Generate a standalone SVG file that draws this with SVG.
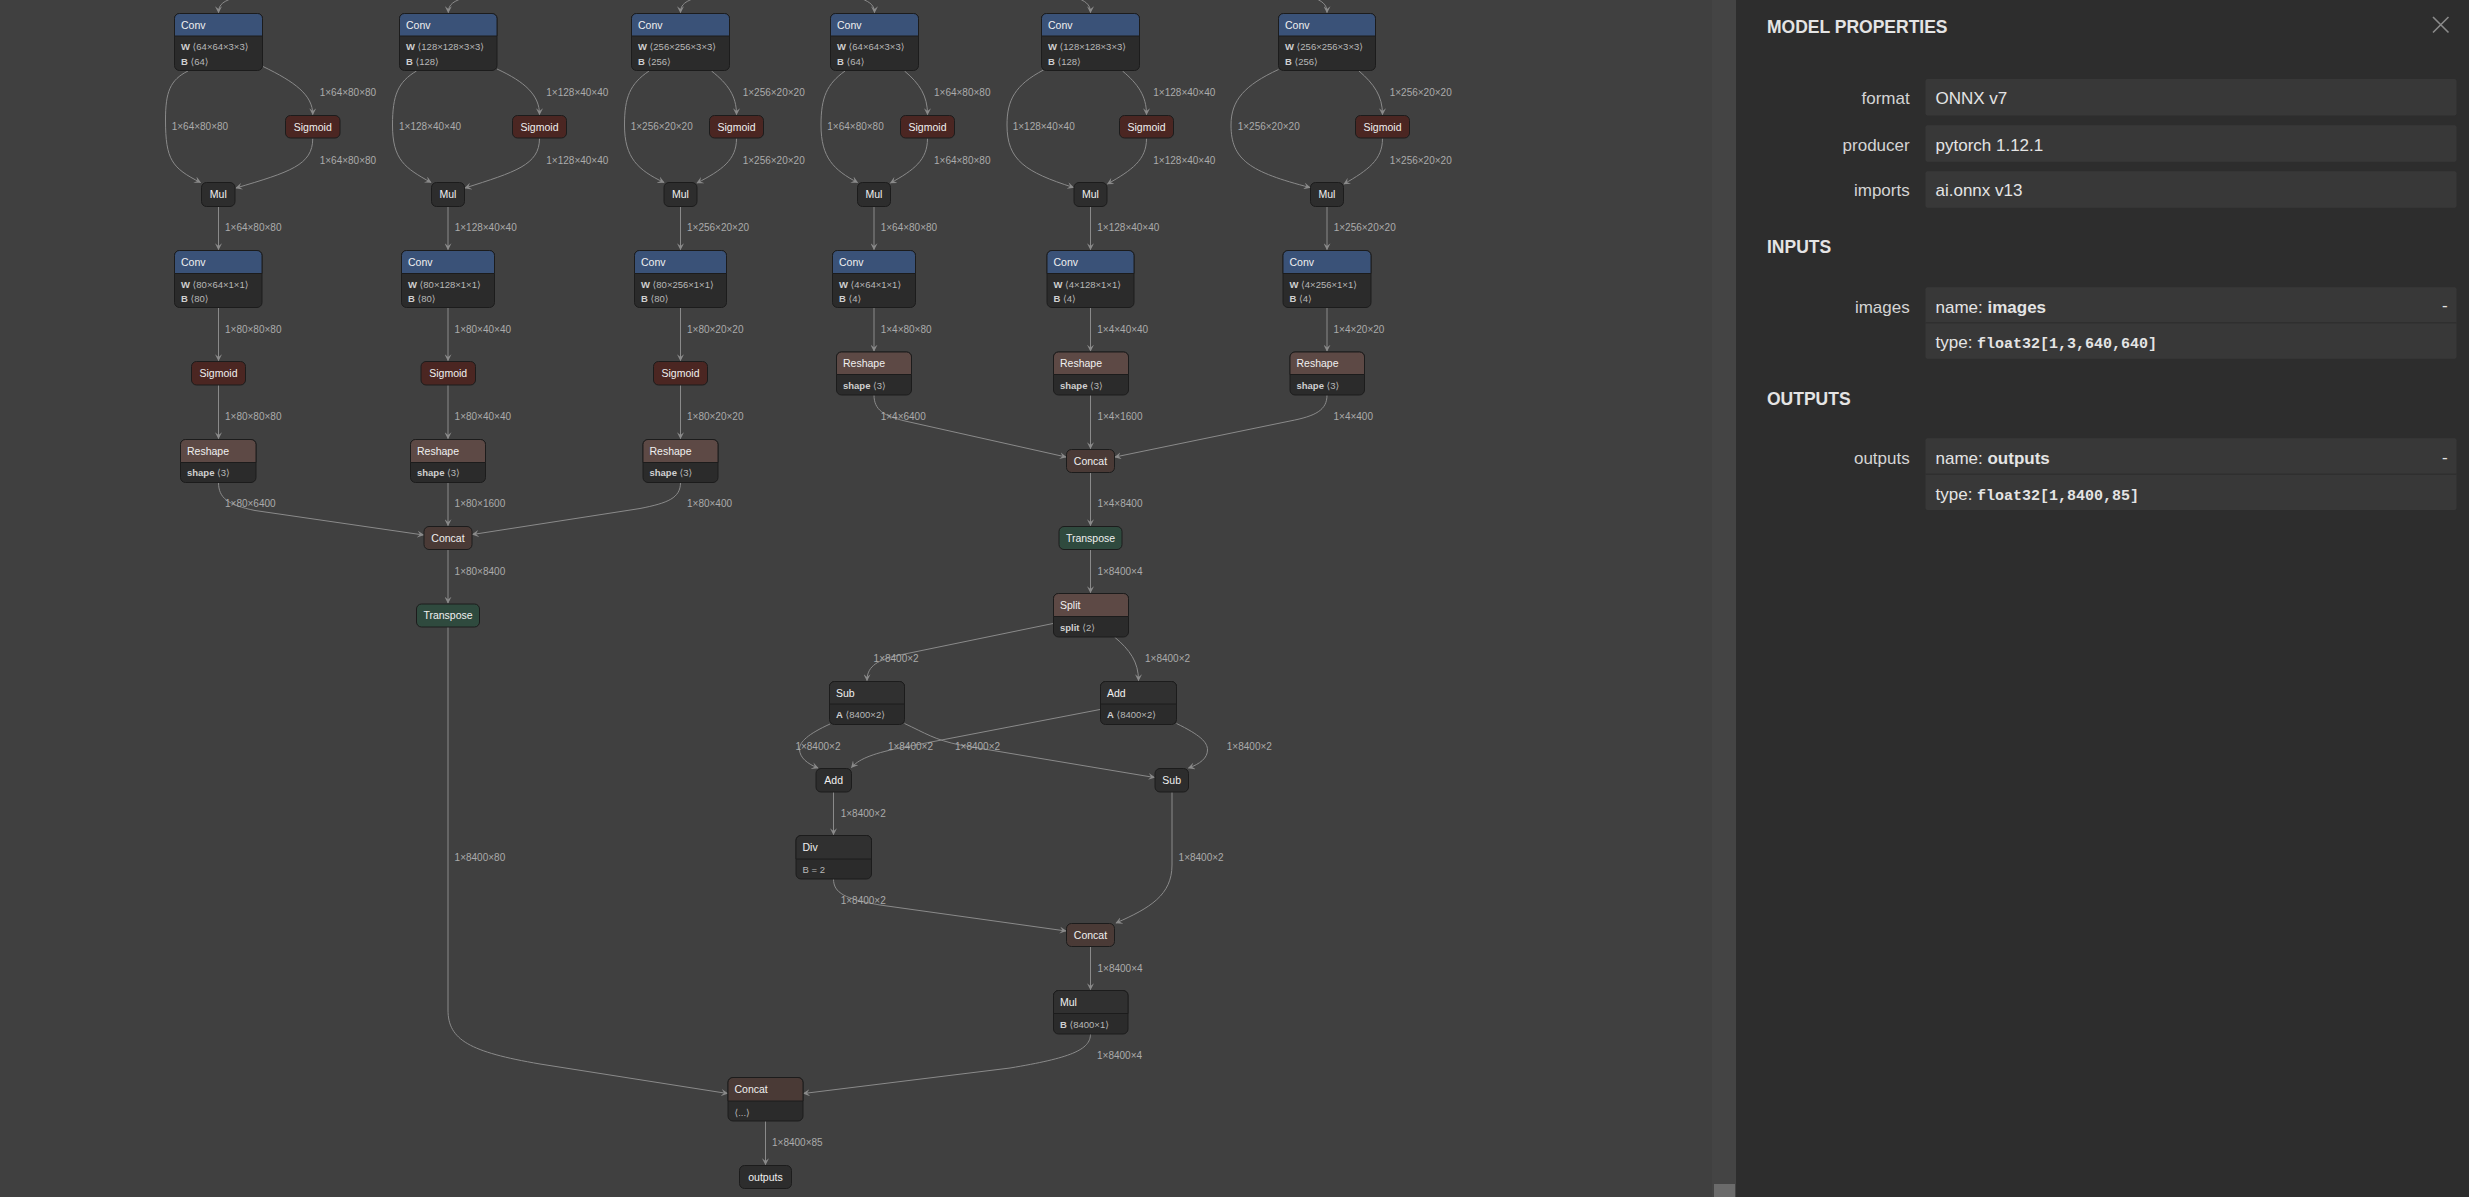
<svg xmlns="http://www.w3.org/2000/svg" width="2469" height="1197" viewBox="0 0 2469 1197">
<defs>
<marker id="arr" viewBox="0 0 10 10" refX="9" refY="5" markerWidth="7" markerHeight="7" orient="auto"><path d="M0,0 L10,5 L0,10 L4,5 Z" fill="#8a8a8a"/></marker>
<style>
.e{fill:none;stroke:#8a8a8a;stroke-width:1;marker-end:url(#arr)}
.el{font-family:"Liberation Sans",Arial,sans-serif;font-size:10px;fill:#ababab}
.bd{fill:#2b2b2b;stroke:#1c1c1c;stroke-width:1}
.sm{fill:#2d2d2d;stroke:#1c1c1c;stroke-width:1}
.hc{fill:#3a5278;stroke:#1c1c1c;stroke-width:1}
.hs{fill:#4b2622;stroke:#1c1c1c;stroke-width:1}
.hr{fill:#5d4945;stroke:#1c1c1c;stroke-width:1}
.hk{fill:#4a3a36;stroke:#1c1c1c;stroke-width:1}
.ht{fill:#2f4a3e;stroke:#1c1c1c;stroke-width:1}
.hd{fill:#303030;stroke:#1c1c1c;stroke-width:1}
.t{font-family:"Liberation Sans",Arial,sans-serif;font-size:10.5px;fill:#f0f0f0}
.tc{font-family:"Liberation Sans",Arial,sans-serif;font-size:10.5px;fill:#f0f0f0;text-anchor:middle}
.a{font-family:"Liberation Sans","DejaVu Sans",Arial,sans-serif;font-size:9.5px;fill:#b8b8b8}
.b{font-weight:bold;fill:#d0d0d0}
.pl{font-family:"Liberation Sans",Arial,sans-serif;font-size:17px;fill:#d4d4d4;text-anchor:end}
.pv{font-family:"Liberation Sans",Arial,sans-serif;font-size:17px;fill:#e4e4e4}
.ph{font-family:"Liberation Sans",Arial,sans-serif;font-size:17.5px;font-weight:bold;fill:#e4e4e4}
.pm{font-family:"Liberation Mono",monospace;font-size:15px;font-weight:bold;fill:#e4e4e4}
.pb{fill:#383838}
</style>
</defs>
<rect x="0" y="0" width="2469" height="1197" fill="#404040"/>
<rect x="1712" y="0" width="24" height="1197" fill="#444444"/>
<rect x="1714" y="1184" width="21" height="13" fill="#6b6b6b"/>

<g id="edges">
<!-- incoming from above -->
<path class="e" d="M236,-3 C224,1 218.5,4 218.5,12.5"/>
<path class="e" d="M466,-3 C454,1 448.3,4 448.3,12.5"/>
<path class="e" d="M698,-3 C686,1 680.5,4 680.5,12.5"/>
<path class="e" d="M857,-3 C868,1 874.5,4 874.5,12.5"/>
<path class="e" d="M1075,-3 C1085,1 1090.5,4 1090.5,12.5"/>
<path class="e" d="M1312,-3 C1322,1 1327,4 1327,12.5"/>
<!-- col1 -->
<path class="e" d="M188,71 C170,80 165.5,92 165.5,120 C165.5,160 172,168 200.5,182.5"/>
<path class="e" d="M263,66.5 C295,82 312.75,95 312.75,114.5"/>
<path class="e" d="M312.75,138.5 C312.75,165 290,172 236,188"/>
<path class="e" d="M218.5,206.5 V249.5"/>
<!-- col2 -->
<path class="e" d="M416.5,71 C398,82 392.5,95 392.5,125 C392.5,160 405,168 431,182.5"/>
<path class="e" d="M497,69 C525,82 539.5,95 539.5,114.5"/>
<path class="e" d="M539.5,138.5 C539.5,165 515,172 465,188"/>
<path class="e" d="M448,206.5 V249.5"/>
<!-- col3 -->
<path class="e" d="M649,71 C630,84 624.5,97 624.5,125 C624.5,158 638,170 664,182.5"/>
<path class="e" d="M711.5,71 C728,84 736.5,96 736.5,114.5"/>
<path class="e" d="M736.5,138.5 C736.5,160 722,170 697,183"/>
<path class="e" d="M680.5,206.5 V249.5"/>
<!-- col4 -->
<path class="e" d="M845,71 C827,84 821,97 821,125 C821,158 834,170 857.5,182.5"/>
<path class="e" d="M904.5,71 C920,84 927.5,96 927.5,114.5"/>
<path class="e" d="M927.5,138.5 C927.5,160 914,170 890.5,183"/>
<path class="e" d="M874,206.5 V249.5"/>
<!-- col5 -->
<path class="e" d="M1043.5,70 C1015,85 1007,100 1007,125 C1007,160 1025,172 1073.5,187.5"/>
<path class="e" d="M1122.5,71 C1138,84 1146.5,96 1146.5,114.5"/>
<path class="e" d="M1146.5,138.5 C1146.5,160 1132,170 1107.5,184"/>
<path class="e" d="M1090.5,206.5 V249.5"/>
<!-- col6 -->
<path class="e" d="M1278.5,69.5 C1245,85 1231,100 1231,125 C1231,160 1250,172 1310,187.5"/>
<path class="e" d="M1359,71 C1374,84 1382.5,96 1382.5,114.5"/>
<path class="e" d="M1382.5,138.5 C1382.5,160 1368,170 1344,184"/>
<path class="e" d="M1327,206.5 V249.5"/>
<!-- left graph lower -->
<path class="e" d="M218.5,307.5 V360.5"/>
<path class="e" d="M448,307.5 V360.5"/>
<path class="e" d="M680.5,307.5 V360.5"/>
<path class="e" d="M218.5,385 V438.5"/>
<path class="e" d="M448,385 V438.5"/>
<path class="e" d="M680.5,385 V438.5"/>
<path class="e" d="M218.5,482.5 C218.5,498 228,505 255,510.5 L423.5,535"/>
<path class="e" d="M448,482.5 V525.5"/>
<path class="e" d="M680.5,482.5 C680.5,498 668,503 640,508.5 L472.5,534.5"/>
<path class="e" d="M448,549.5 V603"/>
<path class="e" d="M448,627 V1010 C448,1040 470,1052 540,1064 L727.5,1093.5"/>
<!-- right graph lower -->
<path class="e" d="M874,307.5 V351"/>
<path class="e" d="M1090.5,307.5 V351"/>
<path class="e" d="M1327,307.5 V351"/>
<path class="e" d="M874,395 C874,410 884,416 905,421 L1066,457"/>
<path class="e" d="M1090.5,395 V448.5"/>
<path class="e" d="M1327,395 C1327,410 1316,416 1290,421 L1115,457"/>
<path class="e" d="M1090.5,472.5 V525.5"/>
<path class="e" d="M1090.5,549.5 V592.5"/>
<path class="e" d="M1053,623.5 L895,656 C875,661 867,668 867,680.5"/>
<path class="e" d="M1114.5,637 C1130,650 1138.5,662 1138.5,680.5"/>
<path class="e" d="M830,724 C808,734 799.5,742 799.5,749 C799.5,758 808,764 818,768"/>
<path class="e" d="M1100,709.5 L900,748 C870,754 858,760 851.5,767.5"/>
<path class="e" d="M904.5,723.5 C925,733 935,740 960,745 L1154.5,777.5"/>
<path class="e" d="M1176.5,723.5 C1200,735 1207.5,742 1207.5,750 C1207.5,758 1200,764 1188.5,768"/>
<path class="e" d="M833.5,792 V834.5"/>
<path class="e" d="M833.5,879 C833.5,893 845,899 880,905 L1066,931"/>
<path class="e" d="M1172,792 V865 C1172,895 1150,908 1116,923"/>
<path class="e" d="M1090.5,946.5 V989.5"/>
<path class="e" d="M1090.5,1034 C1090.5,1050 1070,1058 1010,1068 L803.5,1093.5"/>
<path class="e" d="M765.5,1121 V1164.5"/>
</g>

<g id="edge-labels">
<text class="el" x="171.7" y="130.2">1×64×80×80</text>
<text class="el" x="319.7" y="96.2">1×64×80×80</text>
<text class="el" x="319.7" y="164.2">1×64×80×80</text>
<text class="el" x="225" y="231.2">1×64×80×80</text>
<text class="el" x="399" y="130.2">1×128×40×40</text>
<text class="el" x="546.3" y="96.2">1×128×40×40</text>
<text class="el" x="546.3" y="164.2">1×128×40×40</text>
<text class="el" x="454.7" y="231.2">1×128×40×40</text>
<text class="el" x="630.7" y="130.2">1×256×20×20</text>
<text class="el" x="742.7" y="96.2">1×256×20×20</text>
<text class="el" x="742.7" y="164.2">1×256×20×20</text>
<text class="el" x="687" y="231.2">1×256×20×20</text>
<text class="el" x="827.3" y="130.2">1×64×80×80</text>
<text class="el" x="934" y="96.2">1×64×80×80</text>
<text class="el" x="934" y="164.2">1×64×80×80</text>
<text class="el" x="880.7" y="231.2">1×64×80×80</text>
<text class="el" x="1012.7" y="130.2">1×128×40×40</text>
<text class="el" x="1153.3" y="96.2">1×128×40×40</text>
<text class="el" x="1153.3" y="164.2">1×128×40×40</text>
<text class="el" x="1097.3" y="231.2">1×128×40×40</text>
<text class="el" x="1237.7" y="130.2">1×256×20×20</text>
<text class="el" x="1389.7" y="96.2">1×256×20×20</text>
<text class="el" x="1389.7" y="164.2">1×256×20×20</text>
<text class="el" x="1333.7" y="231.2">1×256×20×20</text>
<text class="el" x="225" y="333.2">1×80×80×80</text>
<text class="el" x="454.6" y="333.2">1×80×40×40</text>
<text class="el" x="687" y="333.2">1×80×20×20</text>
<text class="el" x="225" y="420.2">1×80×80×80</text>
<text class="el" x="454.6" y="420.2">1×80×40×40</text>
<text class="el" x="687" y="420.2">1×80×20×20</text>
<text class="el" x="225" y="507.2">1×80×6400</text>
<text class="el" x="454.6" y="507.2">1×80×1600</text>
<text class="el" x="687" y="507.2">1×80×400</text>
<text class="el" x="454.6" y="575.2">1×80×8400</text>
<text class="el" x="454.6" y="861.2">1×8400×80</text>
<text class="el" x="880.7" y="333.2">1×4×80×80</text>
<text class="el" x="1097.3" y="333.2">1×4×40×40</text>
<text class="el" x="1333.5" y="333.2">1×4×20×20</text>
<text class="el" x="880.7" y="420.2">1×4×6400</text>
<text class="el" x="1097.4" y="420.2">1×4×1600</text>
<text class="el" x="1333.5" y="420.2">1×4×400</text>
<text class="el" x="1097.4" y="507.2">1×4×8400</text>
<text class="el" x="1097.4" y="575.2">1×8400×4</text>
<text class="el" x="873.6" y="662.2">1×8400×2</text>
<text class="el" x="1145" y="662.2">1×8400×2</text>
<text class="el" x="795.4" y="750.2">1×8400×2</text>
<text class="el" x="887.9" y="750.2">1×8400×2</text>
<text class="el" x="955" y="750.2">1×8400×2</text>
<text class="el" x="1226.8" y="750.2">1×8400×2</text>
<text class="el" x="840.7" y="817.2">1×8400×2</text>
<text class="el" x="1178.6" y="861.2">1×8400×2</text>
<text class="el" x="840.7" y="903.8">1×8400×2</text>
<text class="el" x="1097.5" y="972.2">1×8400×4</text>
<text class="el" x="1097" y="1059.2">1×8400×4</text>
<text class="el" x="772" y="1146.2">1×8400×85</text>
</g>

<!-- top Conv nodes -->
<g id="conv-1"><rect class="bd" x="174.5" y="13.5" width="88" height="57" rx="5"/><path class="hc" d="M174.5,36 V18.5 A5,5 0 0 1 179.5,13.5 H257.5 A5,5 0 0 1 262.5,18.5 V36 Z"/><text class="t" x="181" y="28.5">Conv</text><text class="a" x="181" y="50"><tspan class="b">W</tspan> ⟨64×64×3×3⟩</text><text class="a" x="181" y="65"><tspan class="b">B</tspan> ⟨64⟩</text></g>
<g id="conv-2"><rect class="bd" x="399.5" y="13.5" width="97.5" height="57" rx="5"/><path class="hc" d="M399.5,36 V18.5 A5,5 0 0 1 404.5,13.5 H492 A5,5 0 0 1 497,18.5 V36 Z"/><text class="t" x="406" y="28.5">Conv</text><text class="a" x="406" y="50"><tspan class="b">W</tspan> ⟨128×128×3×3⟩</text><text class="a" x="406" y="65"><tspan class="b">B</tspan> ⟨128⟩</text></g>
<g id="conv-3"><rect class="bd" x="631.5" y="13.5" width="98" height="57" rx="5"/><path class="hc" d="M631.5,36 V18.5 A5,5 0 0 1 636.5,13.5 H724.5 A5,5 0 0 1 729.5,18.5 V36 Z"/><text class="t" x="638" y="28.5">Conv</text><text class="a" x="638" y="50"><tspan class="b">W</tspan> ⟨256×256×3×3⟩</text><text class="a" x="638" y="65"><tspan class="b">B</tspan> ⟨256⟩</text></g>
<g id="conv-4"><rect class="bd" x="830.5" y="13.5" width="88" height="57" rx="5"/><path class="hc" d="M830.5,36 V18.5 A5,5 0 0 1 835.5,13.5 H913.5 A5,5 0 0 1 918.5,18.5 V36 Z"/><text class="t" x="837" y="28.5">Conv</text><text class="a" x="837" y="50"><tspan class="b">W</tspan> ⟨64×64×3×3⟩</text><text class="a" x="837" y="65"><tspan class="b">B</tspan> ⟨64⟩</text></g>
<g id="conv-5"><rect class="bd" x="1041.5" y="13.5" width="98" height="57" rx="5"/><path class="hc" d="M1041.5,36 V18.5 A5,5 0 0 1 1046.5,13.5 H1134.5 A5,5 0 0 1 1139.5,18.5 V36 Z"/><text class="t" x="1048" y="28.5">Conv</text><text class="a" x="1048" y="50"><tspan class="b">W</tspan> ⟨128×128×3×3⟩</text><text class="a" x="1048" y="65"><tspan class="b">B</tspan> ⟨128⟩</text></g>
<g id="conv-6"><rect class="bd" x="1278.5" y="13.5" width="97" height="57" rx="5"/><path class="hc" d="M1278.5,36 V18.5 A5,5 0 0 1 1283.5,13.5 H1370.5 A5,5 0 0 1 1375.5,18.5 V36 Z"/><text class="t" x="1285" y="28.5">Conv</text><text class="a" x="1285" y="50"><tspan class="b">W</tspan> ⟨256×256×3×3⟩</text><text class="a" x="1285" y="65"><tspan class="b">B</tspan> ⟨256⟩</text></g>

<!-- Sigmoid top -->
<g id="sig-1"><rect class="hs" x="285.5" y="115.5" width="54.5" height="22.5" rx="5"/><text class="tc" x="312.75" y="130.7">Sigmoid</text></g>
<g id="sig-2"><rect class="hs" x="512.5" y="115.5" width="54" height="22.5" rx="5"/><text class="tc" x="539.5" y="130.7">Sigmoid</text></g>
<g id="sig-3"><rect class="hs" x="709.5" y="115.5" width="54" height="22.5" rx="5"/><text class="tc" x="736.5" y="130.7">Sigmoid</text></g>
<g id="sig-4"><rect class="hs" x="900.5" y="115.5" width="54" height="22.5" rx="5"/><text class="tc" x="927.5" y="130.7">Sigmoid</text></g>
<g id="sig-5"><rect class="hs" x="1119.5" y="115.5" width="54" height="22.5" rx="5"/><text class="tc" x="1146.5" y="130.7">Sigmoid</text></g>
<g id="sig-6"><rect class="hs" x="1355.5" y="115.5" width="54" height="22.5" rx="5"/><text class="tc" x="1382.5" y="130.7">Sigmoid</text></g>

<!-- Mul -->
<g id="mul-1"><rect class="sm" x="201.5" y="182.5" width="33.5" height="24" rx="5"/><text class="tc" x="218.3" y="198.2">Mul</text></g>
<g id="mul-2"><rect class="sm" x="431.5" y="182.5" width="33" height="24" rx="5"/><text class="tc" x="448" y="198.2">Mul</text></g>
<g id="mul-3"><rect class="sm" x="664" y="182.5" width="33" height="24" rx="5"/><text class="tc" x="680.5" y="198.2">Mul</text></g>
<g id="mul-4"><rect class="sm" x="857.5" y="182.5" width="33" height="24" rx="5"/><text class="tc" x="874" y="198.2">Mul</text></g>
<g id="mul-5"><rect class="sm" x="1074" y="182.5" width="33" height="24" rx="5"/><text class="tc" x="1090.5" y="198.2">Mul</text></g>
<g id="mul-6"><rect class="sm" x="1310.5" y="182.5" width="33" height="24" rx="5"/><text class="tc" x="1327" y="198.2">Mul</text></g>

<!-- Conv b -->
<g id="convb-1"><rect class="bd" x="174.5" y="250.5" width="87.5" height="57" rx="5"/><path class="hc" d="M174.5,273.5 V255.5 A5,5 0 0 1 179.5,250.5 H257 A5,5 0 0 1 262,255.5 V273.5 Z"/><text class="t" x="181" y="265.5">Conv</text><text class="a" x="181" y="287.5"><tspan class="b">W</tspan> ⟨80×64×1×1⟩</text><text class="a" x="181" y="301.5"><tspan class="b">B</tspan> ⟨80⟩</text></g>
<g id="convb-2"><rect class="bd" x="401.5" y="250.5" width="93" height="57" rx="5"/><path class="hc" d="M401.5,273.5 V255.5 A5,5 0 0 1 406.5,250.5 H489.5 A5,5 0 0 1 494.5,255.5 V273.5 Z"/><text class="t" x="408" y="265.5">Conv</text><text class="a" x="408" y="287.5"><tspan class="b">W</tspan> ⟨80×128×1×1⟩</text><text class="a" x="408" y="301.5"><tspan class="b">B</tspan> ⟨80⟩</text></g>
<g id="convb-3"><rect class="bd" x="634.5" y="250.5" width="92" height="57" rx="5"/><path class="hc" d="M634.5,273.5 V255.5 A5,5 0 0 1 639.5,250.5 H721.5 A5,5 0 0 1 726.5,255.5 V273.5 Z"/><text class="t" x="641" y="265.5">Conv</text><text class="a" x="641" y="287.5"><tspan class="b">W</tspan> ⟨80×256×1×1⟩</text><text class="a" x="641" y="301.5"><tspan class="b">B</tspan> ⟨80⟩</text></g>
<g id="convb-4"><rect class="bd" x="832.5" y="250.5" width="83" height="57" rx="5"/><path class="hc" d="M832.5,273.5 V255.5 A5,5 0 0 1 837.5,250.5 H910.5 A5,5 0 0 1 915.5,255.5 V273.5 Z"/><text class="t" x="839" y="265.5">Conv</text><text class="a" x="839" y="287.5"><tspan class="b">W</tspan> ⟨4×64×1×1⟩</text><text class="a" x="839" y="301.5"><tspan class="b">B</tspan> ⟨4⟩</text></g>
<g id="convb-5"><rect class="bd" x="1047" y="250.5" width="87" height="57" rx="5"/><path class="hc" d="M1047,273.5 V255.5 A5,5 0 0 1 1052,250.5 H1129 A5,5 0 0 1 1134,255.5 V273.5 Z"/><text class="t" x="1053.5" y="265.5">Conv</text><text class="a" x="1053.5" y="287.5"><tspan class="b">W</tspan> ⟨4×128×1×1⟩</text><text class="a" x="1053.5" y="301.5"><tspan class="b">B</tspan> ⟨4⟩</text></g>
<g id="convb-6"><rect class="bd" x="1283" y="250.5" width="88" height="57" rx="5"/><path class="hc" d="M1283,273.5 V255.5 A5,5 0 0 1 1288,250.5 H1366 A5,5 0 0 1 1371,255.5 V273.5 Z"/><text class="t" x="1289.5" y="265.5">Conv</text><text class="a" x="1289.5" y="287.5"><tspan class="b">W</tspan> ⟨4×256×1×1⟩</text><text class="a" x="1289.5" y="301.5"><tspan class="b">B</tspan> ⟨4⟩</text></g>

<!-- left lower -->
<g id="sigb-1"><rect class="hs" x="191.5" y="361.5" width="54" height="23.5" rx="5"/><text class="tc" x="218.5" y="377">Sigmoid</text></g>
<g id="sigb-2"><rect class="hs" x="421" y="361.5" width="54.5" height="23.5" rx="5"/><text class="tc" x="448.2" y="377">Sigmoid</text></g>
<g id="sigb-3"><rect class="hs" x="653.5" y="361.5" width="54" height="23.5" rx="5"/><text class="tc" x="680.5" y="377">Sigmoid</text></g>
<g id="reshape-1"><rect class="bd" x="180.5" y="439.5" width="75.5" height="43" rx="5"/><path class="hr" d="M180.5,462.5 V444.5 A5,5 0 0 1 185.5,439.5 H251 A5,5 0 0 1 256,444.5 V462.5 Z"/><text class="t" x="187" y="454.7">Reshape</text><text class="a" x="187" y="476"><tspan class="b">shape</tspan> ⟨3⟩</text></g>
<g id="reshape-2"><rect class="bd" x="410.5" y="439.5" width="75" height="43" rx="5"/><path class="hr" d="M410.5,462.5 V444.5 A5,5 0 0 1 415.5,439.5 H480.5 A5,5 0 0 1 485.5,444.5 V462.5 Z"/><text class="t" x="417" y="454.7">Reshape</text><text class="a" x="417" y="476"><tspan class="b">shape</tspan> ⟨3⟩</text></g>
<g id="reshape-3"><rect class="bd" x="643" y="439.5" width="75" height="43" rx="5"/><path class="hr" d="M643,462.5 V444.5 A5,5 0 0 1 648,439.5 H713 A5,5 0 0 1 718,444.5 V462.5 Z"/><text class="t" x="649.5" y="454.7">Reshape</text><text class="a" x="649.5" y="476"><tspan class="b">shape</tspan> ⟨3⟩</text></g>
<g id="concat-l"><rect class="hk" x="424" y="526.5" width="48" height="23" rx="5"/><text class="tc" x="448" y="541.7">Concat</text></g>
<g id="transpose-l"><rect class="ht" x="416.5" y="604" width="63" height="23" rx="5"/><text class="tc" x="448" y="619.2">Transpose</text></g>

<!-- right lower -->
<g id="reshape-4"><rect class="bd" x="836.5" y="352" width="75" height="43" rx="5"/><path class="hr" d="M836.5,374.5 V357 A5,5 0 0 1 841.5,352 H906.5 A5,5 0 0 1 911.5,357 V374.5 Z"/><text class="t" x="843" y="367">Reshape</text><text class="a" x="843" y="389"><tspan class="b">shape</tspan> ⟨3⟩</text></g>
<g id="reshape-5"><rect class="bd" x="1053.5" y="352" width="75" height="43" rx="5"/><path class="hr" d="M1053.5,374.5 V357 A5,5 0 0 1 1058.5,352 H1123.5 A5,5 0 0 1 1128.5,357 V374.5 Z"/><text class="t" x="1060" y="367">Reshape</text><text class="a" x="1060" y="389"><tspan class="b">shape</tspan> ⟨3⟩</text></g>
<g id="reshape-6"><rect class="bd" x="1290" y="352" width="74.5" height="43" rx="5"/><path class="hr" d="M1290,374.5 V357 A5,5 0 0 1 1295,352 H1359.5 A5,5 0 0 1 1364.5,357 V374.5 Z"/><text class="t" x="1296.5" y="367">Reshape</text><text class="a" x="1296.5" y="389"><tspan class="b">shape</tspan> ⟨3⟩</text></g>
<g id="concat-r"><rect class="hk" x="1066.5" y="449.5" width="48" height="23" rx="5"/><text class="tc" x="1090.5" y="464.7">Concat</text></g>
<g id="transpose-r"><rect class="ht" x="1059" y="526.5" width="63" height="23" rx="5"/><text class="tc" x="1090.5" y="541.7">Transpose</text></g>
<g id="split"><rect class="bd" x="1053.5" y="593.5" width="75" height="43.5" rx="5"/><path class="hr" d="M1053.5,616.5 V598.5 A5,5 0 0 1 1058.5,593.5 H1123.5 A5,5 0 0 1 1128.5,598.5 V616.5 Z"/><text class="t" x="1060" y="608.7">Split</text><text class="a" x="1060" y="631"><tspan class="b">split</tspan> ⟨2⟩</text></g>
<g id="sub-1"><rect class="bd" x="829.5" y="681.5" width="75" height="43" rx="5"/><path class="hd" d="M829.5,704 V686.5 A5,5 0 0 1 834.5,681.5 H899.5 A5,5 0 0 1 904.5,686.5 V704 Z"/><text class="t" x="836" y="696.5">Sub</text><text class="a" x="836" y="718"><tspan class="b">A</tspan> ⟨8400×2⟩</text></g>
<g id="add-1"><rect class="bd" x="1100.5" y="681.5" width="76" height="43" rx="5"/><path class="hd" d="M1100.5,704 V686.5 A5,5 0 0 1 1105.5,681.5 H1171.5 A5,5 0 0 1 1176.5,686.5 V704 Z"/><text class="t" x="1107" y="696.5">Add</text><text class="a" x="1107" y="718"><tspan class="b">A</tspan> ⟨8400×2⟩</text></g>
<g id="add-2"><rect class="sm" x="816" y="768.5" width="35.5" height="23.5" rx="5"/><text class="tc" x="833.7" y="784">Add</text></g>
<g id="sub-2"><rect class="sm" x="1155" y="768.5" width="33.5" height="23.5" rx="5"/><text class="tc" x="1171.7" y="784">Sub</text></g>
<g id="div"><rect class="bd" x="796" y="835.5" width="75.5" height="43.5" rx="5"/><path class="hd" d="M796,859 V840.5 A5,5 0 0 1 801,835.5 H866.5 A5,5 0 0 1 871.5,840.5 V859 Z"/><text class="t" x="802.5" y="851">Div</text><text class="a" x="802.5" y="873">B = 2</text></g>
<g id="concat-m"><rect class="hk" x="1066.5" y="923.5" width="48" height="23" rx="5"/><text class="tc" x="1090.5" y="938.7">Concat</text></g>
<g id="mul-final"><rect class="bd" x="1053.5" y="990.5" width="74.5" height="43.5" rx="5"/><path class="hd" d="M1053.5,1013.5 V995.5 A5,5 0 0 1 1058.5,990.5 H1123 A5,5 0 0 1 1128,995.5 V1013.5 Z"/><text class="t" x="1060" y="1005.7">Mul</text><text class="a" x="1060" y="1027.6"><tspan class="b">B</tspan> ⟨8400×1⟩</text></g>
<g id="concat-final"><rect class="bd" x="728" y="1077.5" width="75" height="43.5" rx="5"/><path class="hk" d="M728,1101 V1082.5 A5,5 0 0 1 733,1077.5 H798 A5,5 0 0 1 803,1082.5 V1101 Z"/><text class="t" x="734.5" y="1093">Concat</text><text class="a" x="734.5" y="1115.6">⟨...⟩</text></g>
<g id="outputs"><rect class="sm" x="739.5" y="1165.5" width="52" height="23" rx="5"/><text class="tc" x="765.5" y="1180.7">outputs</text></g>

<!-- properties panel -->
<g id="panel">
<rect x="1736" y="0" width="733" height="1197" fill="#2d2d2d"/>
<text class="ph" x="1767" y="33.3">MODEL PROPERTIES</text>
<path d="M2433,17 L2448.5,32.5 M2448.5,17 L2433,32.5" stroke="#8a8a8a" stroke-width="1.6" fill="none"/>
<text class="pl" x="1909.7" y="104.3">format</text>
<rect class="pb" x="1925.5" y="79" width="531" height="36.5" rx="2"/>
<text class="pv" x="1935.5" y="104.3">ONNX v7</text>
<text class="pl" x="1909.7" y="150.5">producer</text>
<rect class="pb" x="1925.5" y="125.3" width="531" height="36.5" rx="2"/>
<text class="pv" x="1935.5" y="150.5">pytorch 1.12.1</text>
<text class="pl" x="1909.7" y="196">imports</text>
<rect class="pb" x="1925.5" y="171.3" width="531" height="36.5" rx="2"/>
<text class="pv" x="1935.5" y="196">ai.onnx v13</text>
<text class="ph" x="1767" y="253.3">INPUTS</text>
<text class="pl" x="1909.7" y="312.5">images</text>
<rect class="pb" x="1925.5" y="287.3" width="531" height="71.5" rx="2"/>
<rect x="1925.5" y="322" width="531" height="1.5" fill="#2f2f2f"/>
<text class="pv" x="1935.5" y="312.5">name: <tspan font-weight="bold">images</tspan></text>
<text class="pv" x="2442" y="311" fill="#aaaaaa">-</text>
<text class="pv" x="1935.5" y="348.3">type: <tspan class="pm">float32[1,3,640,640]</tspan></text>
<text class="ph" x="1767" y="405">OUTPUTS</text>
<text class="pl" x="1909.7" y="464.3">outputs</text>
<rect class="pb" x="1925.5" y="438.3" width="531" height="71.7" rx="2"/>
<rect x="1925.5" y="473.5" width="531" height="1.5" fill="#2f2f2f"/>
<text class="pv" x="1935.5" y="464.3">name: <tspan font-weight="bold">outputs</tspan></text>
<text class="pv" x="2442" y="463" fill="#aaaaaa">-</text>
<text class="pv" x="1935.5" y="500">type: <tspan class="pm">float32[1,8400,85]</tspan></text>
</g>
</svg>
